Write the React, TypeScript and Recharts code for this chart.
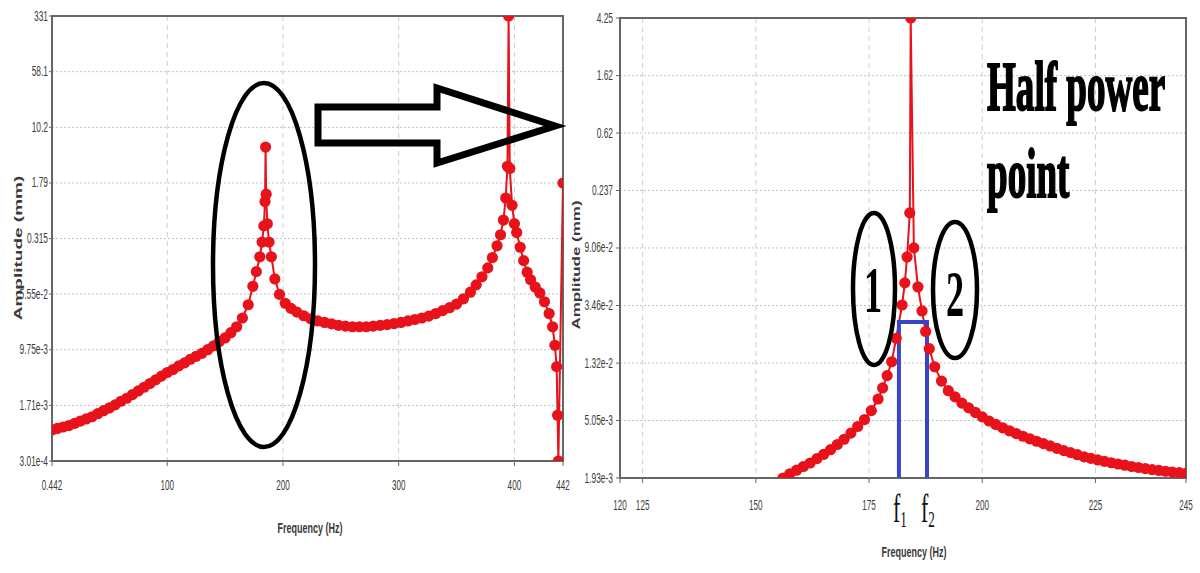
import React from 'react';
import { LineChart, Line, XAxis, YAxis, CartesianGrid, ReferenceArea } from 'recharts';

// ---------- Left chart (full range) ----------
const leftFreq = [0.442,5,10,15,20,25,30,35,40,45,50,55,60,65,70,75,80,85,90,95,100,105,110,115,120,125,130,135,140,145,150,155,160,165,170,174,177,180,182,183.5,184.5,185,185.5,186.5,188,190,193,197,202,207,212,218,224,230,236,242,248,254,260,266,272,278,284,290,296,302,308,314,320,326,332,338,344,350,356,362,367,372,377,381,385,388,390.5,392.5,394,395,396,398,400,402,405,408,411,414,418,422,426,430,433,435,436.5,437.3,438,442];
const leftAmp = [7.94e-4,8.32e-4,8.71e-4,9.12e-4,9.77e-4,1.05e-3,1.12e-3,1.2e-3,1.32e-3,1.45e-3,1.58e-3,1.74e-3,1.95e-3,2.14e-3,2.4e-3,2.69e-3,3.02e-3,3.39e-3,3.8e-3,4.27e-3,4.79e-3,5.25e-3,5.89e-3,6.46e-3,7.24e-3,7.94e-3,8.71e-3,9.77e-3,1.1e-2,1.26e-2,1.41e-2,1.66e-2,2.0e-2,2.63e-2,3.98e-2,7.08e-2,0.112,0.178,0.282,0.468,1.0,5.5,1.26,0.5,0.282,0.178,8.91e-2,5.5e-2,4.17e-2,3.55e-2,3.16e-2,2.82e-2,2.57e-2,2.4e-2,2.29e-2,2.19e-2,2.09e-2,2.04e-2,2.0e-2,2.0e-2,2.0e-2,2.04e-2,2.09e-2,2.14e-2,2.21e-2,2.29e-2,2.4e-2,2.51e-2,2.63e-2,2.79e-2,3.02e-2,3.31e-2,3.63e-2,4.07e-2,4.79e-2,5.89e-2,7.41e-2,9.55e-2,0.126,0.174,0.251,0.355,0.562,1.12,3.02,331,2.82,0.891,0.501,0.38,0.24,0.158,0.11,8.71e-2,6.92e-2,5.75e-2,4.37e-2,3.02e-2,2.0e-2,1.12e-2,5.75e-3,1.26e-3,3.01e-4,1.79];
const LEFT_Y_TICKS = [3.01e-4, 1.71e-3, 9.75e-3, 5.55e-2, 0.315, 1.79, 10.2, 58.1, 331];
const LEFT_Y_LABELS = ['3.01e-4', '1.71e-3', '9.75e-3', '5.55e-2', '0.315', '1.79', '10.2', '58.1', '331'];
const LEFT_X_TICKS = [0.442, 100, 200, 300, 400, 442];
const LEFT_X_LABELS = ['0.442', '100', '200', '300', '400', '442'];

// ---------- Right chart (zoom on first mode) ----------
const rightFreq = [156,157.5,159,160.5,162,163.5,165,166.5,168,169.5,171,172.5,174,175.5,177,178,179,180,181,182.3,182.9,183.4,184.0,184.2,184.9,185.8,186.7,187.5,188.3,189.5,191,192.5,194,195.5,197,198.5,200,201.5,203,204.5,206,207.5,209,210.5,212,213.5,215,216.5,218,219.5,221,222.5,224,225.5,227,228.5,230,231.5,233,234.5,236,237.5,239,240.5,242,243.5,245];
const rightAmp = [1.93e-3,2.07e-3,2.2e-3,2.34e-3,2.48e-3,2.67e-3,2.87e-3,3.1e-3,3.38e-3,3.69e-3,4.09e-3,4.57e-3,5.13e-3,5.96e-3,7.24e-3,8.71e-3,1.07e-2,1.35e-2,2.0e-2,3.49e-2,5.05e-2,7.8e-2,0.163,4.25,9.08e-2,4.72e-2,3.16e-2,2.24e-2,1.68e-2,1.24e-2,9.77e-3,8.32e-3,7.5e-3,6.76e-3,6.24e-3,5.78e-3,5.37e-3,5.01e-3,4.73e-3,4.47e-3,4.25e-3,4.06e-3,3.88e-3,3.72e-3,3.57e-3,3.43e-3,3.3e-3,3.17e-3,3.05e-3,2.95e-3,2.85e-3,2.75e-3,2.68e-3,2.61e-3,2.55e-3,2.49e-3,2.44e-3,2.39e-3,2.34e-3,2.3e-3,2.26e-3,2.22e-3,2.19e-3,2.16e-3,2.13e-3,2.11e-3,2.09e-3];
const halfFreq = [181.6, 181.6, 187.8, 187.8];
const halfAmp = [1.93e-3, 2.63e-2, 2.63e-2, 1.93e-3];
const RIGHT_Y_TICKS = [1.93e-3, 5.05e-3, 1.32e-2, 3.46e-2, 9.06e-2, 0.237, 0.62, 1.62, 4.25];
const RIGHT_Y_LABELS = ['1.93e-3', '5.05e-3', '1.32e-2', '3.46e-2', '9.06e-2', '0.237', '0.62', '1.62', '4.25'];
const RIGHT_X_TICKS = [120, 125, 150, 175, 200, 225, 245];
const RIGHT_X_LABELS = ['120', '125', '150', '175', '200', '225', '245'];

const leftData = leftFreq.map((f, i) => ({ freq: f, amp: leftAmp[i] }));
const rightData = rightFreq.map((f, i) => ({ freq: f, amp: rightAmp[i] }));
const halfData = halfFreq.map((f, i) => ({ freq: f, amp: halfAmp[i] }));

const RED = '#e8121a';
const BLUE = '#3a44c8';
const SANS = '"Liberation Sans", Arial, sans-serif';
const SERIF = '"Liberation Serif", "Times New Roman", serif';

function labelFor(ticks: number[], labels: string[], v: number) {
  const i = ticks.findIndex((t) => Math.abs(t - v) <= Math.abs(t) * 1e-6);
  return i >= 0 ? labels[i] : String(v);
}

const makeYTick = (ticks: number[], labels: string[]) => (props: any) => {
  const { x, y, payload } = props;
  return (
    <g transform={`translate(${x},${y}) scale(0.6,1)`}>
      <text x={0} y={0} dy={4.5} textAnchor="end" fontSize={14} fill="#3c3c3c" fontFamily={SANS}>
        {labelFor(ticks, labels, payload.value)}
      </text>
    </g>
  );
};

const makeXTick = (ticks: number[], labels: string[]) => (props: any) => {
  const { x, y, payload } = props;
  return (
    <g transform={`translate(${x},${y}) scale(0.58,1)`}>
      <text x={0} y={0} dy={5} textAnchor="middle" fontSize={14} fill="#3c3c3c" fontFamily={SANS}>
        {labelFor(ticks, labels, payload.value)}
      </text>
    </g>
  );
};

export default function App() {
  return (
    <div style={{ position: 'absolute', left: 0, top: 0, width: 1200, height: 573, background: '#fff', overflow: 'hidden' }}>
      <div style={{ position: 'absolute', left: 0, top: 0 }}>
        <LineChart width={600} height={573} margin={{ top: 16, right: 37, bottom: 82, left: 0 }}>
          <CartesianGrid horizontal vertical={false} stroke="#c2c2c2" strokeDasharray="2 2" />
          <CartesianGrid horizontal={false} vertical stroke="#cdcdcd" strokeDasharray="5 4" />
          <XAxis
            type="number"
            dataKey="freq"
            domain={[0.442, 442]}
            ticks={LEFT_X_TICKS}
            interval={0}
            allowDataOverflow
            height={30}
            tickSize={5}
            tickMargin={19}
            stroke="#666"
            tick={makeXTick(LEFT_X_TICKS, LEFT_X_LABELS)}
          />
          <YAxis
            type="number"
            scale="log"
            domain={[3.01e-4, 331]}
            ticks={LEFT_Y_TICKS}
            interval={0}
            allowDataOverflow
            width={52}
            tickSize={3}
            tickMargin={1}
            stroke="#666"
            tick={makeYTick(LEFT_Y_TICKS, LEFT_Y_LABELS)}
          />
          <ReferenceArea x1={0.442} x2={442} y1={3.01e-4} y2={331} fill="none" stroke="#666" strokeWidth={2} />
          <Line
            data={leftData}
            dataKey="amp"
            type="linear"
            stroke={RED}
            strokeWidth={2}
            dot={{ r: 5.6, fill: RED, stroke: 'none' }}
            activeDot={false}
            isAnimationActive={false}
          />
        </LineChart>
      </div>

      <div style={{ position: 'absolute', left: 560, top: 0 }}>
        <LineChart width={640} height={573} margin={{ top: 18, right: 14, bottom: 65, left: 0 }}>
          <CartesianGrid horizontal vertical={false} stroke="#c2c2c2" strokeDasharray="2 2" />
          <CartesianGrid horizontal={false} vertical stroke="#cdcdcd" strokeDasharray="5 4" />
          <XAxis
            type="number"
            dataKey="freq"
            domain={[120, 245]}
            ticks={RIGHT_X_TICKS}
            interval={0}
            allowDataOverflow
            height={30}
            tickSize={5}
            tickMargin={22}
            stroke="#666"
            tick={makeXTick(RIGHT_X_TICKS, RIGHT_X_LABELS)}
          />
          <YAxis
            type="number"
            scale="log"
            domain={[1.93e-3, 4.25]}
            ticks={RIGHT_Y_TICKS}
            interval={0}
            allowDataOverflow
            width={60}
            tickSize={4}
            tickMargin={3}
            stroke="#666"
            tick={makeYTick(RIGHT_Y_TICKS, RIGHT_Y_LABELS)}
          />
          <ReferenceArea x1={120} x2={245} y1={1.93e-3} y2={4.25} fill="none" stroke="#666" strokeWidth={2} />
          <Line
            data={rightData}
            dataKey="amp"
            type="linear"
            stroke={RED}
            strokeWidth={2}
            dot={{ r: 5.6, fill: RED, stroke: 'none' }}
            activeDot={false}
            isAnimationActive={false}
          />
          <Line
            data={halfData}
            dataKey="amp"
            type="linear"
            stroke={BLUE}
            strokeWidth={4}
            dot={false}
            activeDot={false}
            isAnimationActive={false}
          />
        </LineChart>
      </div>

      <svg width={1200} height={573} style={{ position: 'absolute', left: 0, top: 0, pointerEvents: 'none' }}>
        {/* axis titles */}
        <g transform="translate(310,533) scale(0.6,1)">
          <text textAnchor="middle" fontSize={15} fontWeight="bold" fill="#3a3a3a" fontFamily={SANS}>Frequency (Hz)</text>
        </g>
        <g transform="translate(914,557) scale(0.6,1)">
          <text textAnchor="middle" fontSize={15} fontWeight="bold" fill="#3a3a3a" fontFamily={SANS}>Frequency (Hz)</text>
        </g>
        <g transform="translate(22,248) rotate(-90) scale(1,0.62)">
          <text textAnchor="middle" fontSize={19} fontWeight="bold" fill="#3a3a3a" fontFamily={SANS}>Amplitude (mm)</text>
        </g>
        <g transform="translate(580,265) rotate(-90) scale(1,0.62)">
          <text textAnchor="middle" fontSize={17} fontWeight="bold" fill="#3a3a3a" fontFamily={SANS}>Amplitude (mm)</text>
        </g>

        {/* annotations on left chart */}
        <ellipse cx={264} cy={265} rx={51} ry={182} fill="none" stroke="#000" strokeWidth={4.5} />
        <polygon points="318,107 437,107 437,88 555,126 437,163 437,143 318,143" fill="none" stroke="#000" strokeWidth={7} strokeLinejoin="miter" />

        {/* annotations on right chart */}
        <ellipse cx={874} cy={289} rx={21} ry={76} fill="none" stroke="#000" strokeWidth={4.5} />
        <ellipse cx={955} cy={290} rx={22} ry={68} fill="none" stroke="#000" strokeWidth={4.5} />
        <g transform="translate(873,312) scale(0.55,1)">
          <text textAnchor="middle" fontSize={66} fontWeight="bold" fill="#000" fontFamily={SERIF}>1</text>
        </g>
        <g transform="translate(955,316) scale(0.55,1)">
          <text textAnchor="middle" fontSize={66} fontWeight="bold" fill="#000" fontFamily={SERIF}>2</text>
        </g>
        <g transform="translate(987,110) scale(0.53,1)">
          <text fontSize={70} fontWeight="bold" fill="#000" stroke="#000" strokeWidth={2} fontFamily={SERIF}>Half power</text>
        </g>
        <g transform="translate(987,197) scale(0.53,1)">
          <text fontSize={70} fontWeight="bold" fill="#000" stroke="#000" strokeWidth={2} fontFamily={SERIF}>point</text>
        </g>
        <g transform="translate(900,522) scale(0.55,1)">
          <text textAnchor="middle" fontSize={40} fill="#111" fontFamily={SERIF}>f<tspan fontSize={24} dy={5}>1</tspan></text>
        </g>
        <g transform="translate(928,522) scale(0.55,1)">
          <text textAnchor="middle" fontSize={40} fill="#111" fontFamily={SERIF}>f<tspan fontSize={24} dy={5}>2</tspan></text>
        </g>
      </svg>
    </div>
  );
}
